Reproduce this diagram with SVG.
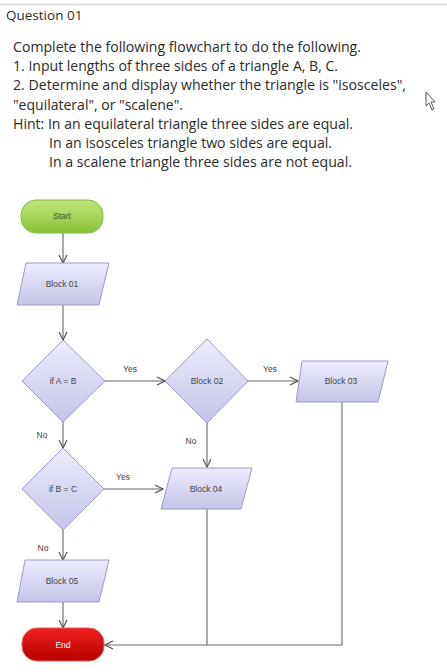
<svg xmlns="http://www.w3.org/2000/svg" width="447" height="672" viewBox="0 0 447 672">
<defs>
<linearGradient id="gBlue" x1="0" y1="0" x2="0" y2="1">
<stop offset="0" stop-color="#ececfb"/>
<stop offset="1" stop-color="#c4c4ea"/>
</linearGradient>
<linearGradient id="gGreen" x1="0" y1="0" x2="0" y2="1">
<stop offset="0" stop-color="#c2e67a"/>
<stop offset="1" stop-color="#86c23a"/>
</linearGradient>
<linearGradient id="gRed" x1="0" y1="0" x2="0" y2="1">
<stop offset="0" stop-color="#f02020"/>
<stop offset="1" stop-color="#b80000"/>
</linearGradient>
<marker id="arr" viewBox="0 0 10 10" refX="9" refY="5" markerWidth="10" markerHeight="10" markerUnits="userSpaceOnUse" orient="auto">
<path d="M1,1 L9,5 L1,9" fill="none" stroke="#555" stroke-width="1.2"/>
</marker>
<style>
.q{font-family:"Open Sans","Liberation Sans",sans-serif;fill:#2b2b2b;}
.body{font-size:14px;}
.node{stroke:#9b9bcc;stroke-width:1;fill:url(#gBlue);}
.nt{font-family:"Liberation Sans",Arial,sans-serif;font-size:8.5px;fill:#444;text-anchor:middle;}
.lbl{font-family:"Liberation Sans",Arial,sans-serif;font-size:8.5px;fill:#444;text-anchor:middle;}
.conn{fill:none;stroke:#666;stroke-width:1.1;}
</style>
</defs>
<rect width="447" height="672" fill="#fff"/>
<line x1="0" y1="4.5" x2="447" y2="4.5" stroke="#dcdcdc" stroke-width="1.5"/>
<text class="q" x="6" y="20" font-size="13.5">Question 01</text>
<g class="q body">
<text x="13" y="52" textLength="348" lengthAdjust="spacingAndGlyphs">Complete the following flowchart to do the following.</text>
<text x="13" y="71" textLength="325" lengthAdjust="spacingAndGlyphs">1. Input lengths of three sides of a triangle A, B, C.</text>
<text x="13" y="90" textLength="393" lengthAdjust="spacingAndGlyphs">2. Determine and display whether the triangle is "isosceles",</text>
<text x="13" y="110" textLength="170" lengthAdjust="spacingAndGlyphs">"equilateral", or "scalene".</text>
<text x="13" y="129" textLength="340" lengthAdjust="spacingAndGlyphs">Hint: In an equilateral triangle three sides are equal.</text>
<text x="49" y="148" textLength="283" lengthAdjust="spacingAndGlyphs">In an isosceles triangle two sides are equal.</text>
<text x="49" y="167" textLength="303" lengthAdjust="spacingAndGlyphs">In a scalene triangle three sides are not equal.</text>
</g>
<path d="M426,92 L426,106 L429,103 L432,110 L434,109 L431,102 L435,102 Z" fill="#fff" stroke="#444" stroke-width="0.9"/>
<g id="connectors">
<line class="conn" x1="63" y1="233" x2="63" y2="263" marker-end="url(#arr)"/>
<line class="conn" x1="63" y1="305" x2="63" y2="340" marker-end="url(#arr)"/>
<line class="conn" x1="105" y1="381" x2="165" y2="381" marker-end="url(#arr)"/>
<line class="conn" x1="248" y1="381" x2="298" y2="381" marker-end="url(#arr)"/>
<line class="conn" x1="63" y1="422" x2="63" y2="448" marker-end="url(#arr)"/>
<line class="conn" x1="207" y1="423" x2="207" y2="467" marker-end="url(#arr)"/>
<line class="conn" x1="104" y1="489" x2="163" y2="489" marker-end="url(#arr)"/>
<line class="conn" x1="63" y1="530" x2="63" y2="560" marker-end="url(#arr)"/>
<line class="conn" x1="63" y1="602" x2="63" y2="628" marker-end="url(#arr)"/>
<polyline class="conn" points="342,402 342,645 207,645"/>
<line class="conn" x1="207" y1="509" x2="207" y2="645"/>
<line class="conn" x1="207" y1="645" x2="105" y2="645" marker-end="url(#arr)"/>
<text class="lbl" x="130" y="372">Yes</text>
<text class="lbl" x="270" y="372">Yes</text>
<text class="lbl" x="42" y="438">No</text>
<text class="lbl" x="191" y="444">No</text>
<text class="lbl" x="123" y="480">Yes</text>
<text class="lbl" x="43" y="551">No</text>
</g>
<g id="start">
<rect x="21" y="200" width="82" height="33" rx="15" ry="15" fill="url(#gGreen)" stroke="#86b84a" stroke-width="1"/>
<text class="nt" x="62" y="219" style="fill:#3f5a20">Start</text>
</g>
<g id="block01">
<polygon class="node" points="26,263 109,263 99,305 17,305"/>
<text class="nt" x="62" y="287">Block 01</text>
</g>
<g id="ifAB">
<polygon class="node" points="63,340 105,381 63,422 22,381"/>
<text class="nt" x="63" y="384">if A = B</text>
</g>
<g id="block02">
<polygon class="node" points="207,339 248,381 207,423 165,381"/>
<text class="nt" x="207" y="384">Block 02</text>
</g>
<g id="block03">
<polygon class="node" points="302,361 388,361 378,402 296,402"/>
<text class="nt" x="341" y="384">Block 03</text>
</g>
<g id="ifBC">
<polygon class="node" points="63,448 104,489 63,530 22,489"/>
<text class="nt" x="63" y="492">if B = C</text>
</g>
<g id="block04">
<polygon class="node" points="172,468 252,468 241,509 161,509"/>
<text class="nt" x="206" y="492">Block 04</text>
</g>
<g id="block05">
<polygon class="node" points="25,560 109,560 99,602 17,602"/>
<text class="nt" x="62" y="584">Block 05</text>
</g>
<g id="end">
<rect x="22" y="628" width="82" height="33" rx="15" ry="15" fill="url(#gRed)" stroke="#e06060" stroke-width="1"/>
<text class="nt" x="63" y="648" style="fill:#fff">End</text>
</g>
</svg>
